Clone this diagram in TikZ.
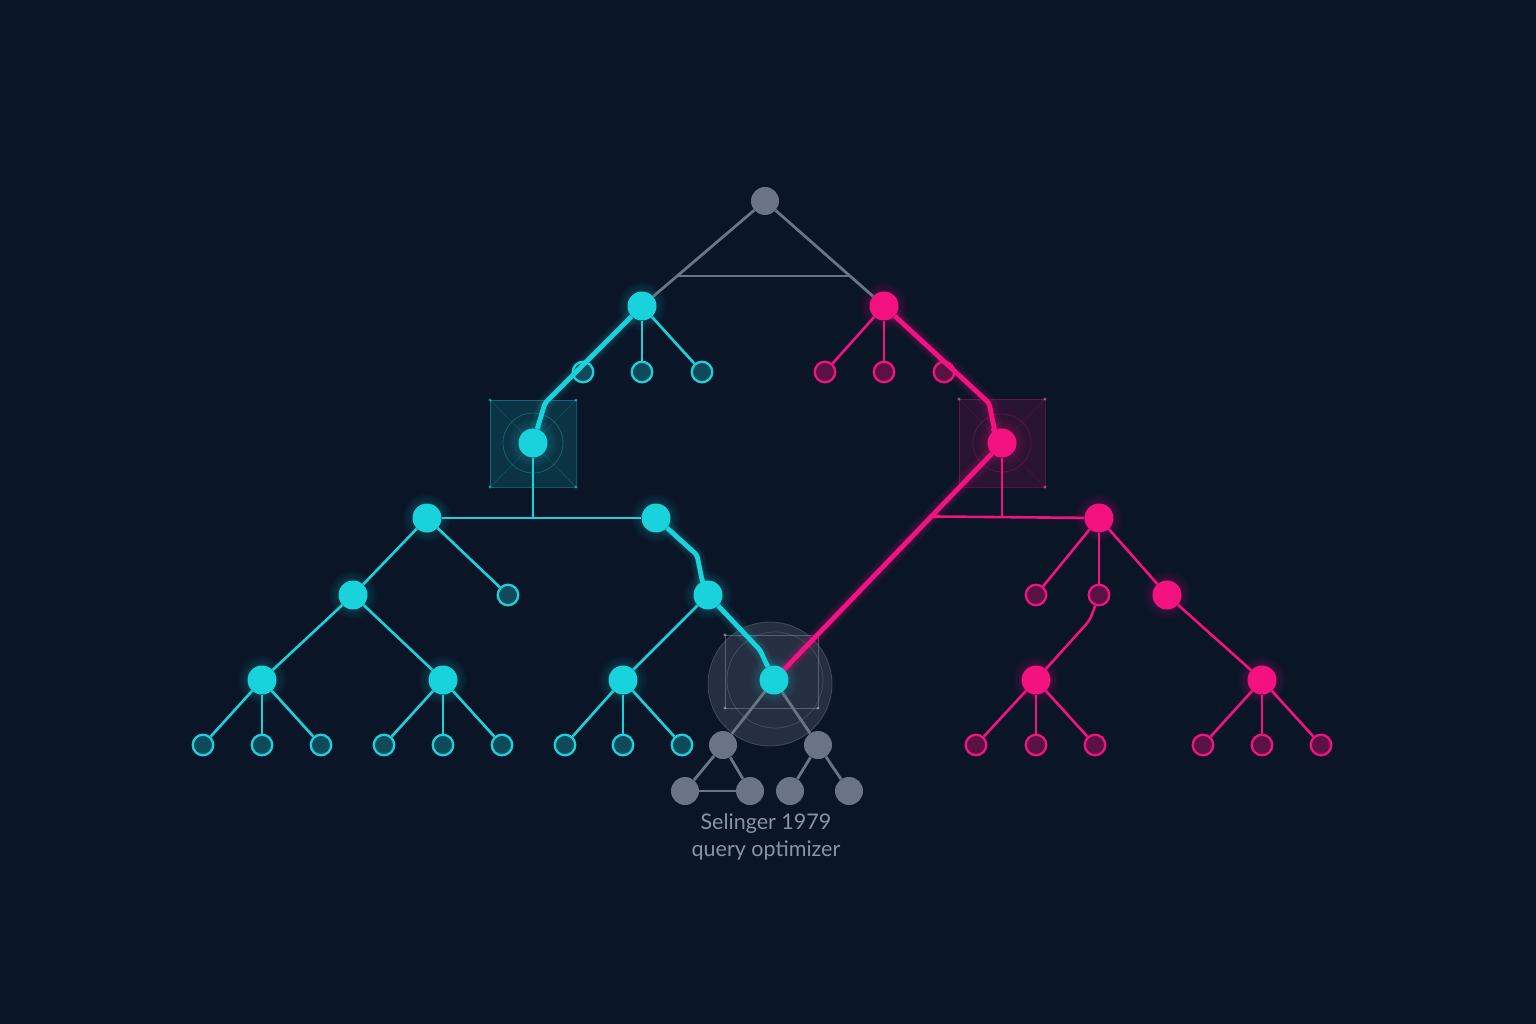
\documentclass[tikz,border=0pt]{standalone}
\usepackage{fontspec}
\setmainfont{Lato}
\usetikzlibrary{calc}
\pgfdeclarelayer{back}
\pgfdeclarelayer{bg}
\pgfsetlayers{back,bg,main}
\definecolor{bgc}{HTML}{0A1528}
\definecolor{cy}{HTML}{18D3DC}
\definecolor{cyd}{HTML}{0E4A5A}
\definecolor{mg}{HTML}{F3127F}
\definecolor{mgd}{HTML}{5A1242}
\definecolor{gy}{HTML}{6B7484}
\definecolor{tx}{HTML}{8A93A1}
\begin{document}
\begin{tikzpicture}[x=1pt,y=-1pt,
  fc/.style={circle,fill=cy,minimum size=29pt,inner sep=0pt},
  hc/.style={circle,draw=cy,fill=cyd,line width=2.3pt,minimum size=20.5pt,inner sep=0pt},
  fm/.style={circle,fill=mg,minimum size=29pt,inner sep=0pt},
  hm/.style={circle,draw=mg,fill=mgd,line width=2.3pt,minimum size=20.5pt,inner sep=0pt},
  fg/.style={circle,fill=gy,minimum size=28pt,inner sep=0pt},
  ec/.style={draw=cy,line width=2.6pt},
  em/.style={draw=mg,line width=2.6pt},
  eg/.style={draw=gy,line width=2.8pt},
  tc/.style={draw=cy,line width=4.8pt,line join=round,rounded corners=3pt},
  tm/.style={draw=mg,line width=4.8pt,line join=round,rounded corners=3pt},
  glowc/.style={draw=cy,line width=#1,opacity=0.06,line join=round,rounded corners=3pt},
  glowm/.style={draw=mg,line width=#1,opacity=0.07,line join=round,rounded corners=3pt},
  lbl/.style={text=tx,font=\fontsize{21.5}{26.5}\selectfont,align=center}]
\useasboundingbox (0,0) rectangle (1536,1024);

% nodes
\node[fg] (R) at (765,201) {};
\node[fc] (A) at (642,306) {};
\node[fm] (B) at (884,306) {};
\node[hc] (a1) at (583,372) {};
\node[hc] (a2) at (642,372) {};
\node[hc] (a3) at (702,372) {};
\node[hm] (b1) at (825,372) {};
\node[hm] (b2) at (884,372) {};
\node[hm] (b3) at (944,372) {};
\node[fc] (C) at (533,443) {};
\node[fm] (L) at (1002,443) {};
\node[fc] (D) at (427,518) {};
\node[fc] (E) at (656,518) {};
\node[fc] (F) at (353,595) {};
\node[hc] (d2) at (508,595) {};
\node[fc] (G) at (262,680) {};
\node[fc] (H) at (443,680) {};
\node[hc] (g1) at (203,745) {};
\node[hc] (g2) at (262,745) {};
\node[hc] (g3) at (321,745) {};
\node[hc] (h1) at (384,745) {};
\node[hc] (h2) at (443,745) {};
\node[hc] (h3) at (502,745) {};
\node[fc] (I) at (708,595) {};
\node[fc] (J) at (623,680) {};
\node[fc] (K) at (774,680) {};
\node[hc] (j1) at (565,745) {};
\node[hc] (j2) at (623,745) {};
\node[hc] (j3) at (682,745) {};
\node[fg] (k1) at (723,745) {};
\node[fg] (k2) at (818,745) {};
\node[fg] (k11) at (685,791) {};
\node[fg] (k12) at (750,791) {};
\node[fg] (k21) at (790,791) {};
\node[fg] (k22) at (849,791) {};
\node[fm] (M) at (1099,518) {};
\node[hm] (m1) at (1036,595) {};
\node[hm] (m2) at (1099,595) {};
\node[fm] (N) at (1167,595) {};
\node[fm] (O) at (1036,680) {};
\node[hm] (o1) at (976,745) {};
\node[hm] (o2) at (1036,745) {};
\node[hm] (o3) at (1095,745) {};
\node[fm] (P) at (1262,680) {};
\node[hm] (p1) at (1203,745) {};
\node[hm] (p2) at (1262,745) {};
\node[hm] (p3) at (1321,745) {};

\node[lbl] (cap) at (766,837) {Selinger 1979\\query optimizer};

% helper coordinates
\coordinate (ga) at ($(R)!0.714!(A)$);
\coordinate (gb) at ($(R)!0.714!(B)$);
\coordinate (ca) at (545,403);
\coordinate (ea) at (697,555);
\coordinate (eb) at (702,580);
\coordinate (ia) at (760,650);
\coordinate (ba) at (989,403);
\coordinate (bb) at (995,432);
\coordinate (mj) at ($(L)!0.31!(K)$);
\coordinate (m2a) at (1090,620);

\begin{pgfonlayer}{back}
  \fill[bgc] (0,0) rectangle (1536,1024);
\end{pgfonlayer}

\begin{pgfonlayer}{bg}
  % highlight box around C
  \fill[cy,opacity=0.16] (490,400) rectangle (576,487);
  \draw[cy,opacity=0.35,line width=0.7pt] (490,400) rectangle (576,487);
  \draw[cy,opacity=0.18,line width=0.6pt] (490,400) -- (576,487) (576,400) -- (490,487);
  \draw[cy,opacity=0.3,line width=0.8pt] (C) circle (30);
  \foreach \p in {(490,400),(576,400),(490,487),(576,487)} \fill[cy,opacity=0.6] \p circle (1.6);
  % highlight box around L
  \fill[mg,opacity=0.14] (959,399) rectangle (1045,487);
  \draw[mg,opacity=0.3,line width=0.7pt] (959,399) rectangle (1045,487);
  \draw[mg,opacity=0.15,line width=0.6pt] (959,399) -- (1045,487) (1045,399) -- (959,487);
  \draw[mg,opacity=0.25,line width=0.8pt] (L) circle (29);
  \foreach \p in {(959,399),(1045,399),(959,487),(1045,487)} \fill[mg!60!white,opacity=0.6] \p circle (1.6);
  % gray lens around K
  \fill[gy,opacity=0.28] (770,684) circle (62);
  \draw[gy!80!white,opacity=0.35,line width=0.8pt] (770,684) circle (62);
  \draw[gy!80!white,opacity=0.3,line width=0.8pt] (775,680) circle (48);
  \draw[gy!80!white,opacity=0.5,line width=0.7pt] (725,635) rectangle (818,708);
  \foreach \p in {(725,635),(818,635),(725,708),(818,708)} \fill[gy!70!white,opacity=0.8] \p circle (1.6);
  % soft halos
  \foreach \n in {A,C,D,E,F,G,H,I,J,K}
    \foreach \r in {16,18,20,22,24} \fill[cy,opacity=0.035] (\n) circle (\r);
  \foreach \n in {B,L,M,N,O,P}
    \foreach \r in {16,18,20,22,24} \fill[mg,opacity=0.04] (\n) circle (\r);
  % glows of the thick paths
  \foreach \w in {8,12,16} {
    \draw[glowc=\w pt] (A.center) -- (ca) -- (C.center);
    \draw[glowc=\w pt] (E.center) -- (ea) -- (eb) -- (I.center);
    \draw[glowc=\w pt] (I.center) -- (ia) -- (K.center);
    \draw[glowm=\w pt] (B.center) -- (ba) -- (bb) -- (L.center);
    \draw[glowm=\w pt] (L.center) -- (K.center);
  }
  % gray edges
  \draw[eg] (R) -- (A);
  \draw[eg] (R) -- (B);
  \draw[draw=gy,line width=1.8pt] (ga) -- (gb);
  \draw[eg] (K) -- (k1);
  \draw[eg] (K) -- (k2);
  \draw[eg] (k1) -- (k11);
  \draw[eg] (k1) -- (k12);
  \draw[eg] (k11) -- (k12);
  \draw[eg] (k2) -- (k21);
  \draw[eg] (k2) -- (k22);
  % cyan thin edges
  \draw[ec] (A) -- (a2);
  \draw[ec] (A) -- (a3);
  \draw[ec] (C) -- (C |- D);
  \draw[ec] (D) -- (E);
  \draw[ec] (D) -- (F);
  \draw[ec] (D) -- (d2);
  \draw[ec] (F) -- (G);
  \draw[ec] (F) -- (H);
  \foreach \c in {g1,g2,g3} \draw[ec] (G) -- (\c);
  \foreach \c in {h1,h2,h3} \draw[ec] (H) -- (\c);
  \draw[ec] (I) -- (J);
  \foreach \c in {j1,j2,j3} \draw[ec] (J) -- (\c);
  % magenta thin edges
  \draw[em] (B) -- (b1);
  \draw[em] (B) -- (b2);
  \draw[em] (L) -- (L |- M);
  \draw[em] (mj) -- (M);
  \draw[em] (M) -- (m1);
  \draw[em] (M) -- (m2);
  \draw[em] (M) -- (N);
  \draw[em,rounded corners=6pt] (m2) -- (m2a) -- (O);
  \foreach \c in {o1,o2,o3} \draw[em] (O) -- (\c);
  \draw[em] (N) -- (P);
  \foreach \c in {p1,p2,p3} \draw[em] (P) -- (\c);
\end{pgfonlayer}

% thick highlighted paths
\draw[tc] (A) -- (ca) -- (C);
\draw[tc] (E) -- (ea) -- (eb) -- (I);
\draw[tc] (I) -- (ia) -- (K);
\draw[tm] (B) -- (ba) -- (bb) -- (L);
\draw[tm] (L) -- (K);
\end{tikzpicture}
\end{document}
